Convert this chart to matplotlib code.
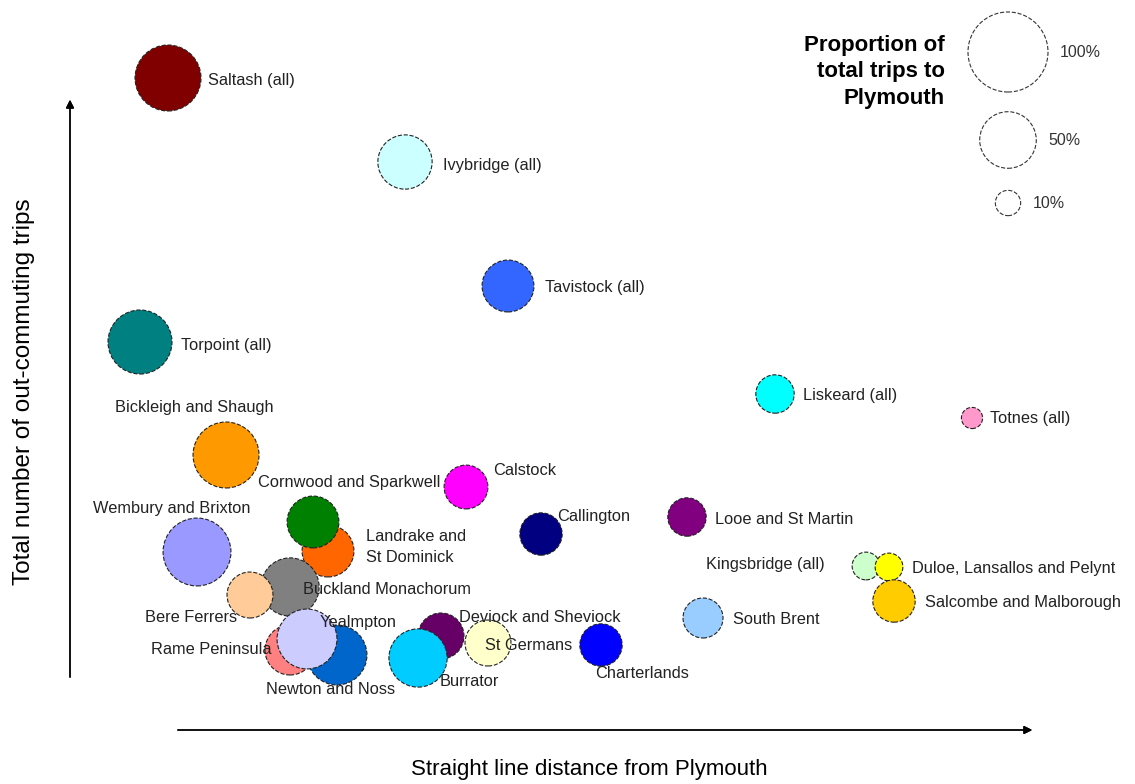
'''bubble chart: out-commuting trips vs distance from Plymouth'''
import numpy as np
from matplotlib import pyplot as plt

plt.rcParams['font.family'] = ['Liberation Sans', 'DejaVu Sans']

# data (arbitrary units, no scale shown on the axes)
areas = ['Saltash (all)', 'Ivybridge (all)', 'Tavistock (all)', 'Torpoint (all)', 'Liskeard (all)',
         'Totnes (all)', 'Bickleigh and Shaugh', 'Calstock', 'Landrake and\nSt Dominick',
         'Cornwood and Sparkwell', 'Wembury and Brixton', 'Callington', 'Looe and St Martin',
         'Kingsbridge (all)', 'Duloe, Lansallos and Pelynt', 'Salcombe and Malborough', 'South Brent',
         'Buckland Monachorum', 'Bere Ferrers', 'Rame Peninsula', 'Newton and Noss', 'Yealmpton',
         'Deviock and Sheviock', 'Burrator', 'St Germans', 'Charterlands']
distance = [98, 335, 438, 70, 705, 902, 156, 396, 258, 243, 127, 471, 617,
            796, 819, 824, 633, 220, 180, 220, 267, 237, 371, 348, 418, 531]
trips = [602, 518, 394, 338, 286, 262, 225, 193, 129, 158, 128, 146, 163,
         114, 113, 79, 62, 93, 85, 30, 25, 41, 44, 22, 37, 35]
share = [0.68, 0.46, 0.42, 0.64, 0.23, 0.07, 0.68, 0.30, 0.42, 0.42, 0.72, 0.28, 0.23,
         0.12, 0.12, 0.28, 0.25, 0.53, 0.33, 0.39, 0.56, 0.56, 0.33, 0.53, 0.33, 0.28]
legend_shares = [1.0, 0.5, 0.1]
legend_labels = ['100%', '50%', '10%']

colors = ['#800000', '#CCFFFF', '#3366FF', '#008080', '#00FFFF', '#FF99CC', '#FF9900', '#FF00FF',
          '#FF6600', '#008000', '#9999FF', '#000080', '#800080', '#CCFFCC', '#FFFF00', '#FFCC00',
          '#99CCFF', '#808080', '#FFCC99', '#FF8080', '#0066CC', '#CCCCFF', '#660066', '#00CCFF',
          '#FFFFCC', '#0000FF']
# label offsets from the bubble centre, in pixels (x right, y up)
label_offsets = [(40, -2), (38, -3), (37, -1), (41, -3), (28, -1), (18, 0), (-111, 48), (27, 17),
                 (38, 4), (-55, 40), (-104, 44), (16, 17), (28, -2), (-160, 2), (23, -2), (31, -1),
                 (30, -1), (13, -2), (-105, -22), (-139, 0), (-71, -35), (13, 16), (18, 18),
                 (22, -23), (-3, -3), (-6, -29)]

full_size = (1.44*40)**2  # marker area (pt^2) of a 100% bubble

fig = plt.figure(figsize=(11.35, 7.84), dpi=100)
ax = fig.add_axes([0, 0, 1, 1])
ax.set_xlim(-70, 1065)
ax.set_ylim(-104, 680)
ax.axis('off')

for d, t, s, c in zip(distance, trips, share, colors):
    ax.scatter(d, t, s=s*full_size, color=c, edgecolors='#222222', linewidths=0.8, linestyle='--', zorder=2)
for name, d, t, (dx, dy) in zip(areas, distance, trips, label_offsets):
    ax.annotate(name, (d, t), xytext=(dx, dy), textcoords='offset pixels', ha='left', va='center',
                fontsize=11.8, color='#222222', linespacing=1.45, zorder=3)

# size legend in the top right corner
leg_y = [628, 540, 477]
for s, lab, y in zip(legend_shares, legend_labels, leg_y):
    ax.scatter(938, y, s=s*full_size, facecolors='white', edgecolors='#333333', linewidths=0.8, linestyle='--')
    ax.annotate(lab, (938, y), xytext=(np.sqrt(s)*40+12, 0), textcoords='offset pixels',
                ha='left', va='center', fontsize=11.5, color='#333333')
fig.text(945/1135, 1-72/784, 'Proportion of\ntotal trips to\nPlymouth', ha='right', va='center',
         fontsize=16, fontweight='bold', linespacing=1.35)

# axis arrows and titles
fig.add_artist(plt.annotate('', xy=(70/1135, 1-97/784), xytext=(70/1135, 1-680/784), xycoords='figure fraction',
                            arrowprops=dict(arrowstyle='-|>', color='black', lw=1, mutation_scale=12)))
fig.add_artist(plt.annotate('', xy=(1035/1135, 1-730/784), xytext=(175/1135, 1-730/784), xycoords='figure fraction',
                            arrowprops=dict(arrowstyle='-|>', color='black', lw=1, mutation_scale=12)))
fig.text(24/1135, 1-392/784, 'Total number of out-commuting trips', rotation=90, ha='center', va='center', fontsize=17.5)
fig.text(589/1135, 1-770/784, 'Straight line distance from Plymouth', ha='center', va='center', fontsize=16)

fig.savefig('out.png', dpi=100)
